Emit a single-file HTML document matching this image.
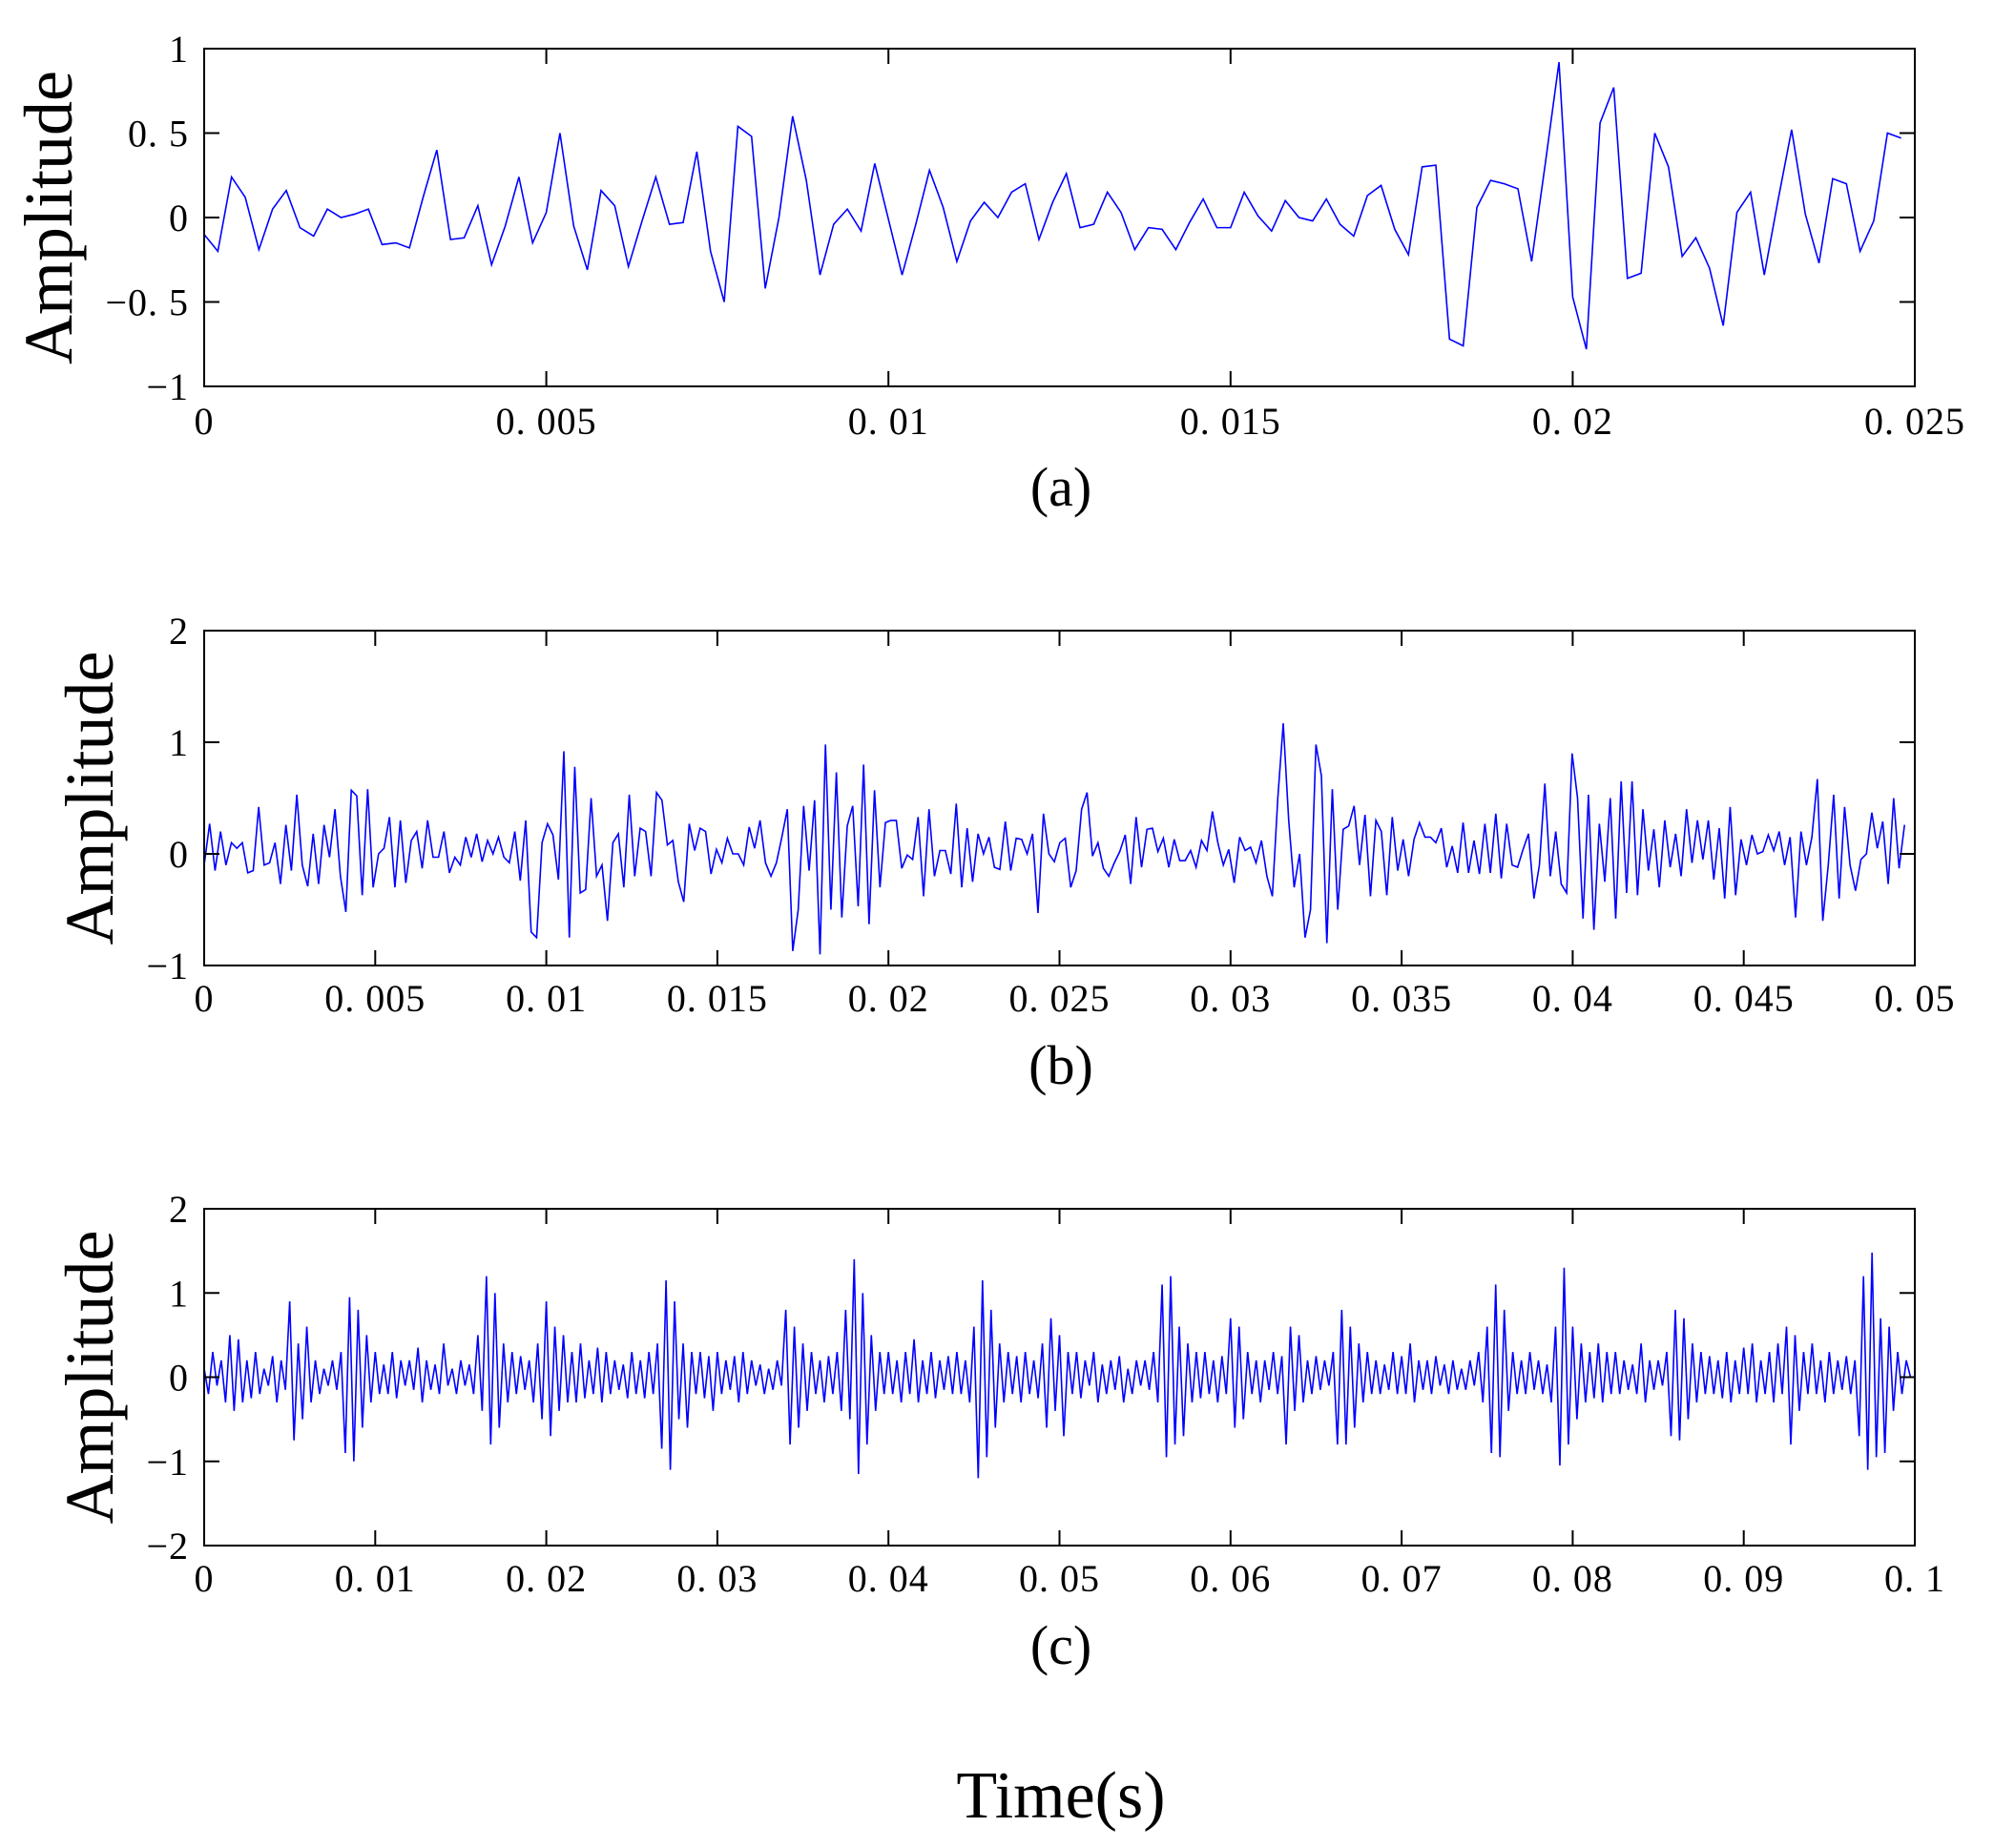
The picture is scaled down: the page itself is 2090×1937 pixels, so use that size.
<!DOCTYPE html>
<html><head><meta charset="utf-8"><style>
html,body{margin:0;padding:0;background:#fff;}
svg{display:block;}
text{font-family:"Liberation Serif",serif;fill:#000;}
</style></head><body>
<svg id="fig" width="2090" height="1937" viewBox="0 0 2090 1937" xmlns="http://www.w3.org/2000/svg">
<text x="1112" y="1905" font-size="70" text-anchor="middle">Time(s)</text>
</svg>
<script>
const aValues=[-0.1,-0.2,0.24,0.12,-0.19,0.05,0.16,-0.06,-0.11,0.05,0,0.02,0.05,-0.16,-0.15,-0.18,0.12,0.4,-0.13,-0.12,0.07,-0.28,-0.05,0.24,-0.15,0.03,0.5,-0.05,-0.31,0.16,0.07,-0.29,-0.02,0.24,-0.04,-0.03,0.39,-0.2,-0.5,0.54,0.48,-0.42,0.0,0.6,0.22,-0.34,-0.04,0.05,-0.08,0.32,-0.01,-0.34,-0.04,0.28,0.06,-0.26,-0.02,0.09,0.0,0.15,0.2,-0.13,0.09,0.26,-0.06,-0.04,0.15,0.03,-0.19,-0.06,-0.07,-0.19,-0.03,0.11,-0.06,-0.06,0.15,0.01,-0.08,0.1,0.0,-0.02,0.11,-0.04,-0.11,0.13,0.19,-0.07,-0.22,0.3,0.31,-0.72,-0.76,0.06,0.22,0.2,0.17,-0.26,0.32,0.92,-0.47,-0.78,0.56,0.77,-0.36,-0.33,0.5,0.3,-0.23,-0.12,-0.3,-0.64,0.03,0.15,-0.34,0.1,0.52,0.02,-0.27,0.23,0.2,-0.2,-0.02,0.5,0.47];
const bValues=[-0.1,0.27,-0.15,0.2,-0.1,0.1,0.05,0.1,-0.17,-0.15,0.42,-0.1,-0.08,0.1,-0.27,0.26,-0.15,0.53,-0.1,-0.29,0.18,-0.27,0.26,-0.03,0.4,-0.2,-0.52,0.57,0.52,-0.37,0.58,-0.3,0.0,0.05,0.33,-0.3,0.3,-0.26,0.12,0.2,-0.13,0.3,-0.03,-0.03,0.2,-0.17,-0.03,-0.1,0.15,-0.03,0.18,-0.07,0.12,0,0.15,-0.03,-0.08,0.2,-0.24,0.3,-0.7,-0.75,0.1,0.27,0.17,-0.23,0.92,-0.75,0.78,-0.35,-0.32,0.5,-0.2,-0.1,-0.6,0.1,0.18,-0.3,0.53,-0.2,0.23,0.2,-0.2,0.55,0.48,0.08,0.12,-0.25,-0.43,0.27,0.03,0.23,0.2,-0.18,0.04,-0.08,0.14,0.0,0.0,-0.1,0.24,0.05,0.3,-0.08,-0.2,-0.08,0.15,0.4,-0.87,-0.5,0.43,-0.15,0.48,-0.9,0.98,-0.5,0.73,-0.57,0.25,0.43,-0.47,0.8,-0.63,0.57,-0.3,0.28,0.3,0.3,-0.13,-0.01,-0.05,0.33,-0.38,0.4,-0.2,0.03,0.03,-0.18,0.45,-0.3,0.23,-0.25,0.18,0.0,0.15,-0.12,-0.14,0.29,-0.15,0.14,0.13,0.0,0.18,-0.53,0.36,0.0,
-0.07,0.1,0.14,-0.3,-0.15,0.4,0.55,-0.02,0.1,-0.13,-0.2,-0.08,0.02,0.17,-0.27,0.33,-0.12,0.22,0.23,0.02,0.14,-0.12,0.13,-0.06,-0.06,0.03,-0.12,0.12,0.03,0.38,0.1,-0.1,0.04,-0.26,0.15,0.03,0.06,-0.08,0.12,-0.2,-0.38,0.5,1.17,0.3,-0.3,0.0,-0.75,-0.5,0.98,0.7,-0.8,0.58,-0.5,0.22,0.25,0.43,-0.1,0.35,-0.38,0.3,0.2,-0.37,0.33,-0.15,0.13,-0.2,0.13,0.28,0.15,0.15,0.1,0.23,-0.12,0.07,-0.17,0.28,-0.17,0.12,-0.18,0.27,-0.17,0.36,-0.22,0.27,-0.1,-0.12,0.04,0.18,-0.4,-0.1,0.63,-0.2,0.2,-0.27,-0.35,0.9,0.5,-0.58,0.53,-0.68,0.27,-0.25,0.5,-0.58,0.65,-0.35,0.65,-0.37,0.4,-0.15,0.22,-0.3,0.3,-0.12,0.18,-0.2,0.4,-0.08,0.3,-0.05,0.3,-0.23,0.23,-0.4,0.42,-0.37,0.13,-0.1,0.17,0.0,0.02,0.17,0.03,0.2,-0.1,0.15,-0.57,0.2,-0.1,0.15,0.67,-0.6,-0.1,0.53,-0.4,0.42,-0.1,-0.33,-0.05,0.0,0.37,0.05,0.29,-0.27,0.5,-0.13,0.26];
const cValues=[0.1,-0.2,0.3,-0.1,0.2,-0.3,0.5,-0.4,0.45,-0.3,0.2,-0.25,0.3,-0.2,0.1,-0.1,0.25,-0.3,0.2,-0.15,
0.9,-0.75,0.4,-0.5,0.6,-0.3,0.2,-0.2,0.1,-0.1,0.2,-0.15,0.3,-0.9,0.95,-1.0,0.8,-0.6,0.5,-0.3,
0.3,-0.2,0.15,-0.2,0.3,-0.25,0.2,-0.1,0.2,-0.15,0.35,-0.3,0.2,-0.15,0.15,-0.2,0.4,-0.1,0.1,-0.2,
0.2,-0.1,0.15,-0.2,0.5,-0.4,1.2,-0.8,1.0,-0.6,0.4,-0.3,0.3,-0.2,0.25,-0.15,0.2,-0.3,0.4,-0.5,
0.9,-0.7,0.6,-0.4,0.5,-0.3,0.3,-0.3,0.4,-0.25,0.2,-0.2,0.35,-0.3,0.3,-0.2,0.2,-0.15,0.15,-0.25,
0.3,-0.2,0.2,-0.25,0.3,-0.2,0.4,-0.85,1.15,-1.1,0.9,-0.5,0.4,-0.6,0.3,-0.2,0.3,-0.25,0.25,-0.4,
0.3,-0.2,0.2,-0.15,0.25,-0.3,0.3,-0.2,0.2,-0.1,0.15,-0.2,0.1,-0.15,0.2,-0.1,0.8,-0.8,0.6,-0.6,
0.4,-0.4,0.3,-0.2,0.2,-0.3,0.25,-0.2,0.3,-0.4,0.8,-0.5,1.4,-1.15,1.0,-0.8,0.5,-0.4,0.3,-0.2,
0.3,-0.2,0.2,-0.3,0.3,-0.2,0.45,-0.3,0.2,-0.2,0.3,-0.25,0.2,-0.15,0.25,-0.2,0.3,-0.2,0.2,-0.3,
0.6,-1.2,1.15,-0.95,0.8,-0.6,0.4,-0.3,0.3,-0.2,0.25,-0.3,0.3,-0.2,0.2,-0.25,0.4,-0.6,0.7,-0.4,
0.5,-0.7,0.3,-0.2,0.3,-0.25,0.2,-0.1,0.3,-0.3,0.15,-0.2,0.2,-0.15,0.25,-0.3,0.1,-0.2,0.2,-0.1,
0.2,-0.15,0.3,-0.3,1.1,-0.95,1.2,-0.8,0.6,-0.7,0.4,-0.3,0.3,-0.25,0.3,-0.2,0.2,-0.3,0.25,-0.2,
0.7,-0.6,0.6,-0.5,0.3,-0.2,0.2,-0.3,0.2,-0.15,0.3,-0.2,0.25,-0.8,0.6,-0.4,0.5,-0.3,0.2,-0.2,
0.25,-0.15,0.2,-0.1,0.3,-0.8,0.8,-0.8,0.6,-0.6,0.4,-0.3,0.3,-0.2,0.2,-0.2,0.15,-0.15,0.3,-0.2,
0.25,-0.2,0.4,-0.3,0.2,-0.15,0.2,-0.2,0.25,-0.1,0.15,-0.2,0.2,-0.15,0.1,-0.15,0.2,-0.1,0.3,-0.3,
0.6,-0.9,1.1,-0.95,0.8,-0.4,0.3,-0.2,0.2,-0.2,0.3,-0.15,0.2,-0.2,0.15,-0.3,0.6,-1.05,1.3,-0.8,
0.6,-0.5,0.4,-0.3,0.3,-0.25,0.4,-0.3,0.3,-0.2,0.3,-0.2,0.2,-0.15,0.15,-0.2,0.4,-0.3,0.2,-0.15,
0.2,-0.1,0.3,-0.7,0.8,-0.75,0.7,-0.5,0.4,-0.3,0.3,-0.2,0.25,-0.2,0.2,-0.25,0.3,-0.3,0.2,-0.2,
0.35,-0.2,0.4,-0.3,0.2,-0.2,0.3,-0.3,0.4,-0.2,0.6,-0.8,0.5,-0.4,0.3,-0.2,0.4,-0.2,0.2,-0.3,
0.3,-0.2,0.2,-0.15,0.25,-0.2,0.2,-0.7,1.2,-1.1,1.48,-0.95,0.7,-0.9,0.6,-0.4,0.3,-0.2,0.2,0.0];
const aXTicks=[0,0.005,0.01,0.015,0.02,0.025];
const aXLabels=["0","0. 005","0. 01","0. 015","0. 02","0. 025"];
const aYTicks=[-1,-0.5,0,0.5,1];
const aYLabels=["\u22121","\u22120. 5","0","0. 5","1"];
const bXTicks=[0,0.005,0.01,0.015,0.02,0.025,0.03,0.035,0.04,0.045,0.05];
const bXLabels=["0","0. 005","0. 01","0. 015","0. 02","0. 025","0. 03","0. 035","0. 04","0. 045","0. 05"];
const bYTicks=[-1,0,1,2];
const bYLabels=["\u22121","0","1","2"];
const cXTicks=[0,0.01,0.02,0.03,0.04,0.05,0.06,0.07,0.08,0.09,0.1];
const cXLabels=["0","0. 01","0. 02","0. 03","0. 04","0. 05","0. 06","0. 07","0. 08","0. 09","0. 1"];
const cYTicks=[-2,-1,0,1,2];
const cYLabels=["\u22122","\u22121","0","1","2"];
const aDt=0.0002;
const bDuration=0.0497;
const cDt=0.00025;

const NS="http://www.w3.org/2000/svg";
const svg=document.getElementById('fig');
function mk(tag,attrs,parent){const e=document.createElementNS(NS,tag);for(const k in attrs)e.setAttribute(k,attrs[k]);(parent||svg).appendChild(e);return e;}

function panel(cfg){
  const g=mk('g',{});
  
  
  const L=214,R=2007,T=cfg.top,B=cfg.bottom;
  const sx=v=>L+(v-cfg.xmin)/(cfg.xmax-cfg.xmin)*(R-L);
  const sy=v=>B-(v-cfg.ymin)/(cfg.ymax-cfg.ymin)*(B-T);
  let d='';
  cfg.values.forEach((v,i)=>{const t=cfg.times(i);d+=(i?'L':'M')+sx(t).toFixed(2)+' '+sy(v).toFixed(2);});
  const line=mk('path',{d:d,fill:'none',stroke:'#0000ff','stroke-width':1.6,'stroke-linejoin':'miter'},g);
  
  
  const fr=mk('rect',{x:L,y:T,width:R-L,height:B-T,fill:'none',stroke:'#000','stroke-width':2},g);
  
  
  cfg.xticks.forEach((v,i)=>{
    const x=sx(v);
    mk('line',{x1:x,y1:B,x2:x,y2:B-16,stroke:'#000','stroke-width':2},g);
    mk('line',{x1:x,y1:T,x2:x,y2:T+16,stroke:'#000','stroke-width':2},g);
    const tx=mk('text',{x:x,y:cfg.xlabY,'font-size':40,'text-anchor':'middle','letter-spacing':1},g);
    tx.textContent=cfg.xlabels[i];
    
    
  });
  cfg.yticks.forEach((v,i)=>{
    const y=sy(v);
    mk('line',{x1:L,y1:y,x2:L+16,y2:y,stroke:'#000','stroke-width':2},g);
    mk('line',{x1:R,y1:y,x2:R-16,y2:y,stroke:'#000','stroke-width':2},g);
    const ty=mk('text',{x:198,y:y+14,'font-size':40,'text-anchor':'end','letter-spacing':1},g);
    ty.textContent=cfg.ylabels[i];
    
    
  });
  const yl=mk('text',{x:0,y:0,'font-size':72,'text-anchor':'middle',transform:'translate('+(cfg.ylabX)+','+((T+B)/2)+') rotate(-90)'},g);
  yl.textContent='Amplitude';
  
  
  const cap=mk('text',{x:1112,y:cfg.capY,'font-size':58,'text-anchor':'middle'},g);
  cap.textContent=cfg.caption;
  
  
}
panel({name:'panel-a',top:51,bottom:405,xmin:0,xmax:0.025,ymin:-1,ymax:1,values:aValues,times:i=>i*aDt,
  xticks:aXTicks,xlabels:aXLabels,yticks:aYTicks,ylabels:aYLabels,xlabY:455,ylabX:75,capY:530,caption:'(a)'});
panel({name:'panel-b',top:661,bottom:1012,xmin:0,xmax:0.05,ymin:-1,ymax:2,values:bValues,times:i=>i*bDuration/(bValues.length-1),
  xticks:bXTicks,xlabels:bXLabels,yticks:bYTicks,ylabels:bYLabels,xlabY:1060,ylabX:118,capY:1136,caption:'(b)'});
panel({name:'panel-c',top:1267,bottom:1620,xmin:0,xmax:0.1,ymin:-2,ymax:2,values:cValues,times:i=>i*cDt,
  xticks:cXTicks,xlabels:cXLabels,yticks:cYTicks,ylabels:cYLabels,xlabY:1668,ylabX:118,capY:1744,caption:'(c)'});
</script>
</body></html>
